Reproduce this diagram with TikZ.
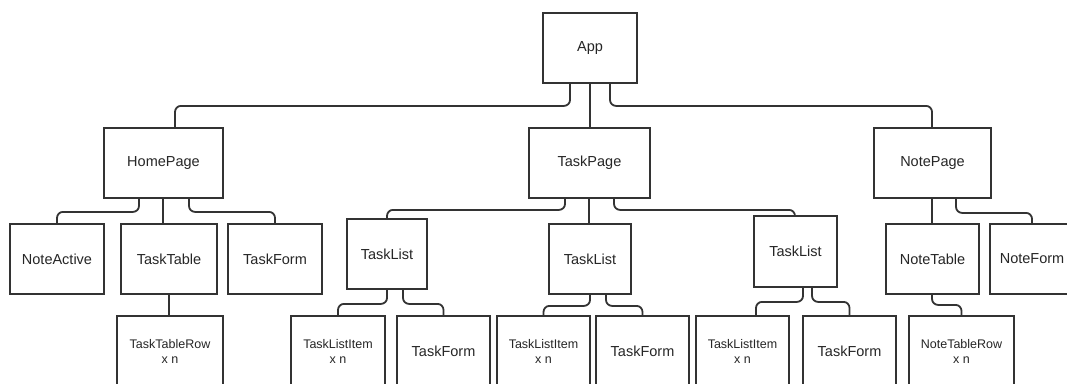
\documentclass[tikz,border=0pt]{standalone}
\usepackage{fontspec}
\setmainfont{Liberation Sans}
\usetikzlibrary{calc}

\tikzset{
	comp/.style={draw=black!80, line width=1.8pt, fill=white, minimum height=70pt, inner sep=0pt, align=center, text=black!85, font=\fontsize{14.5}{17}\selectfont},
	subcomp/.style={comp, font=\fontsize{12.5}{15}\selectfont},
	link/.style={draw=black!80, line width=1.8pt, rounded corners=6pt},
}

\begin{document}
\begin{tikzpicture}[x=1pt, y=-1pt]
			%%%%% START %%%%%
			\useasboundingbox (0,0) rectangle (1067,383);
			\clip (0,0) rectangle (1067,383);
			
			\node[comp, minimum width=94pt] (app) at (590,48) {App};
			
			\node[comp, minimum width=119pt] (homepage) at (163.5,163) {HomePage};
			\node[comp, minimum width=121pt] (taskpage) at (589.5,163) {TaskPage};
			\node[comp, minimum width=117pt] (notepage) at (932.5,163) {NotePage};
			
			\node[comp, minimum width=94pt] (noteactive) at (57,259) {NoteActive};
			\node[comp, minimum width=96pt] (tasktable) at (169,259) {TaskTable};
			\node[comp, minimum width=94pt] (taskform) at (275,259) {TaskForm};
			
			\node[comp, minimum width=80pt] (tasklista) at (387,254) {TaskList};
			\node[comp, minimum width=82pt] (tasklistb) at (590,259) {TaskList};
			\node[comp, minimum width=83pt, minimum height=71pt] (tasklistc) at (795.5,251.5) {TaskList};
			
			\node[comp, minimum width=93pt] (notetable) at (932.5,259) {NoteTable};
			\node[comp, minimum width=84pt] (noteform) at (1032,259) {NoteForm};
			
			\node[subcomp, minimum width=106pt] (tasktablerow) at (170,351) {TaskTableRow\\x n};
			\node[subcomp, minimum width=94pt] (itema) at (338,351) {TaskListItem\\x n};
			\node[comp, minimum width=93pt] (forma) at (443.5,351) {TaskForm};
			\node[subcomp, minimum width=93pt] (itemb) at (543.5,351) {TaskListItem\\x n};
			\node[comp, minimum width=93pt] (formb) at (642.5,351) {TaskForm};
			\node[subcomp, minimum width=93pt] (itemc) at (742.5,351) {TaskListItem\\x n};
			\node[comp, minimum width=93pt] (formc) at (849.5,351) {TaskForm};
			\node[subcomp, minimum width=105pt] (notetablerow) at (961.5,351) {NoteTableRow\\x n};
			
			% App
			\draw[link] ([xshift=-20pt]app.south) -- ++(0,22) -| ([xshift=11.5pt]homepage.north);
			\draw[link] (app.south) -- (app.south |- taskpage.north);
			\draw[link] ([xshift=20pt]app.south) -- ++(0,22) -| ([xshift=-0.5pt]notepage.north);
			
			% HomePage
			\draw[link] ([xshift=-24.5pt]homepage.south) -- ++(0,13) -| (noteactive.north);
			\draw[link] ([xshift=-0.5pt]homepage.south) -- ([xshift=-0.5pt]homepage.south |- tasktable.north);
			\draw[link] ([xshift=25.5pt]homepage.south) -- ++(0,13) -| (taskform.north);
			\draw[link] (tasktable.south) -- (tasktable.south |- tasktablerow.north);
			
			% TaskPage
			\draw[link] ([xshift=-24.5pt]taskpage.south) -- ++(0,11) -| (tasklista.north);
			\draw[link] ([xshift=-0.5pt]taskpage.south) -- ([xshift=-0.5pt]taskpage.south |- tasklistb.north);
			\draw[link] ([xshift=24.5pt]taskpage.south) -- ++(0,11) -| ([xshift=-0.5pt]tasklistc.north);
			
			\draw[link] (tasklista.south) -- ++(0,14) -| (itema.north);
			\draw[link] ([xshift=16pt]tasklista.south) -- ++(0,14) -| (forma.north);
			\draw[link] (tasklistb.south) -- ++(0,11) -| (itemb.north);
			\draw[link] ([xshift=16pt]tasklistb.south) -- ++(0,11) -| (formb.north);
			\draw[link] ([xshift=7.5pt]tasklistc.south) -- ++(0,14) -| ([xshift=13.5pt]itemc.north);
			\draw[link] ([xshift=16.5pt]tasklistc.south) -- ++(0,14) -| (formc.north);
			
			% NotePage
			\draw[link] ([xshift=-0.5pt]notepage.south) -- ([xshift=-0.5pt]notepage.south |- notetable.north);
			\draw[link] ([xshift=23.5pt]notepage.south) -- ++(0,14) -| (noteform.north);
			\draw[link] ([xshift=-0.5pt]notetable.south) -- ++(0,10) -| (notetablerow.north);
			
			%%%%% END %%%%%
\end{tikzpicture}
\end{document}
